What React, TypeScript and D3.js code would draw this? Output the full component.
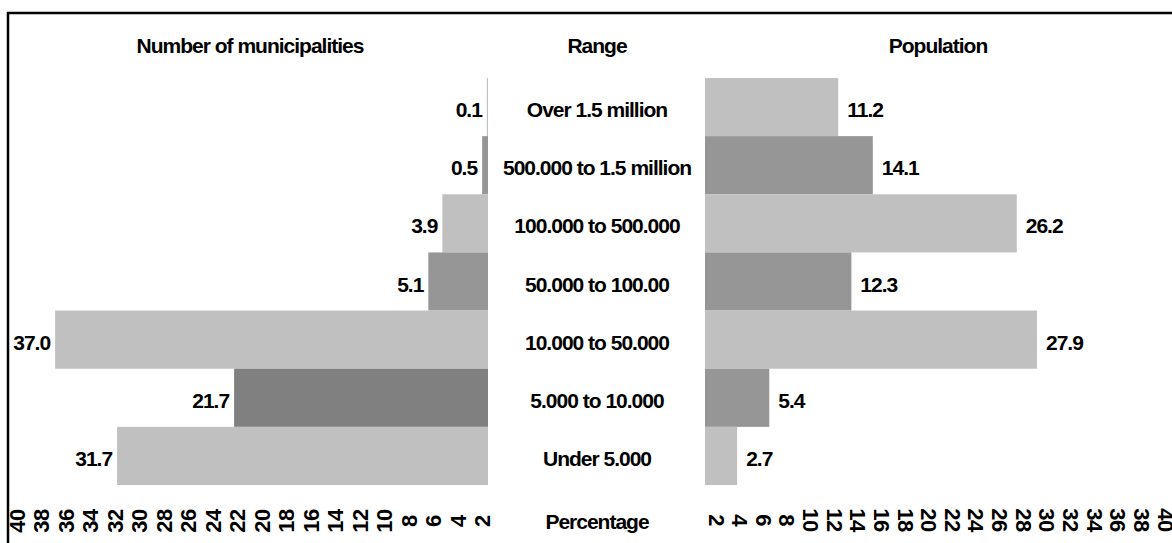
import * as d3 from "d3";

// Size ranges (top to bottom)
const ranges = [
  "Over 1.5 million",
  "500.000 to 1.5 million",
  "100.000 to 500.000",
  "50.000 to 100.00",
  "10.000 to 50.000",
  "5.000 to 10.000",
  "Under 5.000",
];

// Percent of municipalities per range
const municipalities = [0.1, 0.5, 3.9, 5.1, 37.0, 21.7, 31.7];

// Percent of population per range
const population = [11.2, 14.1, 26.2, 12.3, 27.9, 5.4, 2.7];

// Axis tick labels
const leftTicks = [40, 38, 36, 34, 32, 30, 28, 26, 24, 22, 20, 18, 16, 14, 12, 10, 8, 6, 4, 2];
const rightTicks = [2, 4, 6, 8, 10, 12, 14, 16, 18, 20, 22, 24, 26, 28, 30, 32, 34, 36, 38, 40];

const W = 1172;
const H = 543;

const leftFill = ["#c0c0c0", "#969696", "#c0c0c0", "#969696", "#c0c0c0", "#808080", "#c0c0c0"];
const rightFill = ["#c0c0c0", "#969696", "#c0c0c0", "#969696", "#c0c0c0", "#969696", "#c0c0c0"];

const font = {
  fontFamily: "'Liberation Sans', Arial, sans-serif",
  fontWeight: 700,
  fontSize: 21,
  letterSpacing: -1,
  fill: "#000",
};

const tickFont = { ...font, fontSize: 22, letterSpacing: -0.5 };

export default function App() {
  const y = d3.scaleBand<string>().domain(ranges).range([78, 485]).padding(0);
  const xL = d3.scaleLinear().domain([0, 40]).range([488, 488 - 40 * 11.7]);
  const xR = d3.scaleLinear().domain([0, 40]).range([705, 705 + 40 * 11.9]);

  // tick label positions (labels are spread evenly under each panel)
  const tL = d3.scaleLinear().domain([40, 2]).range([17, 482.5]);
  const tR = d3.scaleLinear().domain([2, 40]).range([716, 1165]);

  const centerX = 597;
  const bw = y.bandwidth();

  return (
    <svg
      width={W}
      height={H}
      style={{ position: "absolute", left: 0, top: 0, background: "#fff" }}
    >
      <rect x={8} y={13} width={W} height={H} fill="#fff" stroke="#000" strokeWidth={2.5} />

      {/* headers */}
      <text {...font} x={250} y={53} textAnchor="middle">Number of municipalities</text>
      <text {...font} x={centerX} y={53} textAnchor="middle">Range</text>
      <text {...font} x={938} y={53} textAnchor="middle">Population</text>

      {/* left bars */}
      {municipalities.map((v, i) => {
        const yy = y(ranges[i])!;
        return (
          <g key={"l" + i}>
            <rect x={xL(v)} y={yy} width={xL(0) - xL(v)} height={bw} fill={leftFill[i]} />
            <text {...font} x={xL(v) - 5} y={yy + bw / 2 + 10} textAnchor="end">
              {v.toFixed(1)}
            </text>
          </g>
        );
      })}

      {/* range labels */}
      {ranges.map((r) => (
        <text key={r} {...font} x={centerX} y={y(r)! + bw / 2 + 10} textAnchor="middle">
          {r}
        </text>
      ))}

      {/* right bars */}
      {population.map((v, i) => {
        const yy = y(ranges[i])!;
        return (
          <g key={"r" + i}>
            <rect x={xR(0)} y={yy} width={xR(v) - xR(0)} height={bw} fill={rightFill[i]} />
            <text {...font} x={xR(v) + 9} y={yy + bw / 2 + 10} textAnchor="start">
              {v.toFixed(1)}
            </text>
          </g>
        );
      })}

      {/* tick labels */}
      {leftTicks.map((t) => (
        <text
          key={"tl" + t}
          {...tickFont}
          textAnchor="middle"
          dominantBaseline="central"
          transform={`translate(${tL(t)},521) rotate(-90)`}
        >
          {t}
        </text>
      ))}
      <text {...font} x={centerX} y={529} textAnchor="middle">Percentage</text>
      {rightTicks.map((t) => (
        <text
          key={"tr" + t}
          {...tickFont}
          textAnchor="middle"
          dominantBaseline="central"
          transform={`translate(${tR(t)},520) rotate(90)`}
        >
          {t}
        </text>
      ))}
    </svg>
  );
}
